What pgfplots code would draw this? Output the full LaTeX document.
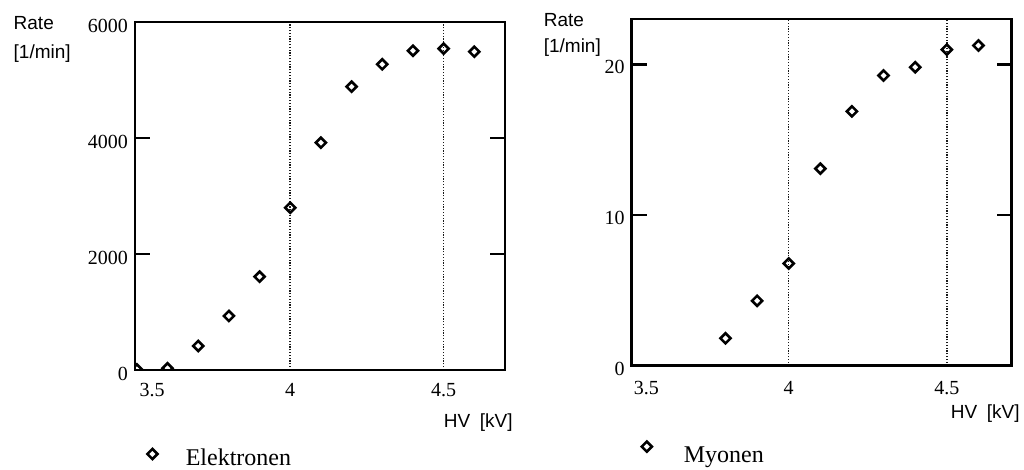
\documentclass[border=0pt]{standalone}
\usepackage{fontspec}
\setmainfont{Liberation Serif}
\newfontfamily\arial{Liberation Sans}
\usepackage{pgfplots}
\pgfplotsset{compat=1.18}

\pgfplotsset{
  mcad/.style={
    scale only axis,
    clip marker paths=true,
    axis line style={line width=1.3pt},
    tick align=inside,
    ytick pos=both,
    major tick length=7.5pt,
    every tick/.style={black, line width=1.3pt},
    xtick={4,4.5}, xticklabels={4,4.5},
    xtick style={draw=none},
    extra x ticks={3.55}, extra x tick labels={3.5},
    extra x tick style={grid=none, major tick length=0pt},
    xmajorgrids,
    major grid style={black!90, line width=0.75pt, dash pattern=on 0.6pt off 0.8pt},
    ymin=0,
    /pgf/number format/assume math mode=true,
    ticklabel style={font=\fontsize{10}{12}\selectfont},
    scaled y ticks=false,
    xlabel={HV\hspace{4.8pt}[kV]},
    ylabel={Rate\\{[}1/min]},
    label style={font=\arial\fontsize{9.5}{14}\selectfont},
    xlabel style={at={(rel axis cs:1,0)}, anchor=base east, inner sep=0pt},
    ylabel style={rotate=-90, at={(rel axis cs:0,1)}, anchor=north west, inner sep=0pt, align=left},
    legend style={draw=none, fill=none, inner sep=0pt, column sep=0pt, font=\fontsize{12}{14}\selectfont, anchor=west},
    legend image code/.code={\draw[#1] plot coordinates {(0pt,0pt)}; \path (-4pt,-3pt) (16.5pt,3pt);},
  },
  dmark/.style={only marks, mark=square, mark size=1.78pt, mark options={rotate=45, line width=1.3pt, black}},
}

\begin{document}
\begin{tikzpicture}
\useasboundingbox (0,0) rectangle (512pt,235pt);

\begin{axis}[mcad, at={(67.5pt,50pt)}, anchor=south west, width=185pt, height=174pt,
  xmin=3.494, xmax=4.70, ymax=6000,
  ytick={0,2000,4000,6000}, yticklabels={0,2000,4000,6000},
  yticklabel style={yshift=-2pt}, xticklabel style={yshift=-3.2pt},
  xlabel style={xshift=4pt, yshift=-29pt},
  ylabel style={xshift=-60.85pt, yshift=3pt, font=\arial\fontsize{9.5}{14.3}\selectfont},
  legend style={at={(axis description cs:0.0232,-0.2414)}, nodes={inner sep=0pt, text depth=0pt, text height=12pt}},
]
\addplot[dmark] coordinates {
 (3.5,10) (3.6,30) (3.7,414) (3.8,931) (3.9,1609) (4.0,2799)
 (4.1,3919) (4.2,4885) (4.3,5270) (4.4,5505) (4.5,5540) (4.6,5488)
};
\addlegendentry{Elektronen}
\end{axis}

\begin{axis}[mcad, at={(315.8pt,52.2pt)}, anchor=south west, width=190pt, height=173.3pt,
  xmin=3.503, xmax=4.705, ymax=23,
  ytick={0,10,20}, yticklabels={0,10,20},
  yticklabel style={yshift=-1.5pt}, xticklabel style={yshift=-4.3pt},
  xlabel style={xshift=4.2pt, yshift=-26.7pt},
  ylabel style={xshift=-44.1pt, yshift=2.85pt, font=\arial\fontsize{9.5}{13}\selectfont},
  legend style={at={(axis description cs:0.0168,-0.2337)}, nodes={inner sep=0pt, text depth=0pt, text height=16pt}},
  legend image code/.code={\draw[#1] plot coordinates {(0pt,0pt)}; \path (-4pt,-3pt) (18.3pt,3pt);},
]
\addplot[dmark] coordinates {
 (3.8,1.81) (3.9,4.30) (4.0,6.78) (4.1,13.07) (4.2,16.87)
 (4.3,19.25) (4.4,19.80) (4.5,20.97) (4.6,21.24)
};
\addlegendentry{Myonen}
\end{axis}
\end{tikzpicture}
\end{document}
